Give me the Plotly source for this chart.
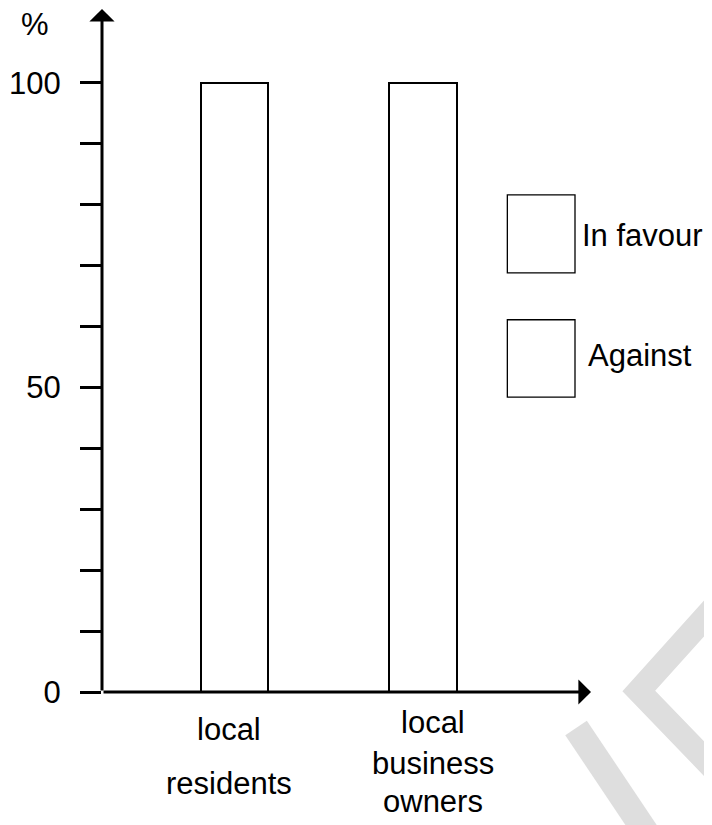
import plotly.graph_objects as go

# data
groups = ["local residents", "local business owners"]
group_lines = [["local", "residents"], ["local", "business", "owners"]]
percent = [100, 100]
y_ticks = [0, 10, 20, 30, 40, 50, 60, 70, 80, 90, 100]
y_labels = ["0", "", "", "", "", "50", "", "", "", "", "100"]
legend_items = ["In favour", "Against"]

FONT = "Liberation Sans, Arial, sans-serif"
FS = 31
x_pos = [1, 2]
x_range = [0.296, 2.894]
y_range = [0, 112.1]

fig = go.Figure()
fig.add_trace(go.Bar(
    x=x_pos, y=percent, width=0.36,
    marker=dict(color="white", line=dict(color="black", width=2)),
    hoverinfo="skip", showlegend=False,
))

# category labels, one line at a time
line_shifts = [[-37, -91], [-30, -71, -109]]
x_shifts = [-6, 10]
annotations = []
for xi, lines, shifts, xs in zip(x_pos, group_lines, line_shifts, x_shifts):
    for text, ys in zip(lines, shifts):
        annotations.append(dict(
            x=xi, y=0, xref="x", yref="y", text=text, showarrow=False,
            xanchor="center", yanchor="middle", xshift=xs, yshift=ys,
            font=dict(family=FONT, size=FS, color="black"),
        ))

# axis arrows
annotations.append(dict(
    x=x_range[0], y=y_range[1], ax=x_range[0], ay=0,
    xref="x", yref="y", axref="x", ayref="y", text="",
    showarrow=True, arrowhead=1, arrowsize=1.4, arrowwidth=3, arrowcolor="black",
))
annotations.append(dict(
    x=x_range[1], y=0, ax=x_range[0], ay=0,
    xref="x", yref="y", axref="x", ayref="y", text="",
    showarrow=True, arrowhead=1, arrowsize=1.4, arrowwidth=3, arrowcolor="black",
))

# percent sign above the axis
annotations.append(dict(
    x=0, y=1, xref="paper", yref="paper", text="%", showarrow=False,
    xanchor="center", yanchor="middle", xshift=-67, yshift=-15,
    font=dict(family=FONT, size=FS, color="black"),
))

# legend boxes and labels
shapes = []
box_y = [(81.6, 68.8), (61.1, 48.4)]
text_y = [75.0, 55.2]
text_x = [2.837, 2.868]
for name, (y1, y0), ty, tx in zip(legend_items, box_y, text_y, text_x):
    shapes.append(dict(
        type="rect", xref="x", yref="y", x0=2.4495, x1=2.809, y0=y0, y1=y1,
        line=dict(color="black", width=1.3), fillcolor="white",
    ))
    annotations.append(dict(
        x=tx, y=ty, xref="x", yref="y", text=name, showarrow=False,
        xanchor="left", yanchor="middle",
        font=dict(family=FONT, size=FS, color="black"),
    ))

# faint watermark strokes in the bottom right corner (page pixels -> paper)
def px(x):
    return (x - 100) / 491

def py(y):
    return (692 - y) / 683

wm = "#dedede"
shapes.append(dict(
    type="path", xref="paper", yref="paper", layer="below",
    path=f"M {px(722)} {py(599)} L {px(639)} {py(691)} L {px(730)} {py(785)}",
    line=dict(color=wm, width=24),
))
shapes.append(dict(
    type="line", xref="paper", yref="paper", layer="below",
    x0=px(576), y0=py(728), x1=px(648), y1=py(835),
    line=dict(color=wm, width=26),
))

fig.update_layout(
    width=704, height=817,
    margin=dict(l=92, r=121, t=1, b=133),
    plot_bgcolor="rgba(0,0,0,0)", paper_bgcolor="white",
    font=dict(family=FONT, size=FS, color="black"),
    xaxis=dict(range=x_range, showgrid=False, zeroline=False, showline=False,
               showticklabels=False, ticks=""),
    yaxis=dict(range=y_range, showgrid=False, zeroline=False, showline=False,
               tickvals=y_ticks, ticktext=y_labels, ticks="outside",
               ticklen=21, tickwidth=2.5, tickcolor="black", ticklabelstandoff=13,
               tickfont=dict(family=FONT, size=FS, color="black")),
    shapes=shapes,
    annotations=annotations,
    bargap=0,
)

fig.write_html("out.html")
